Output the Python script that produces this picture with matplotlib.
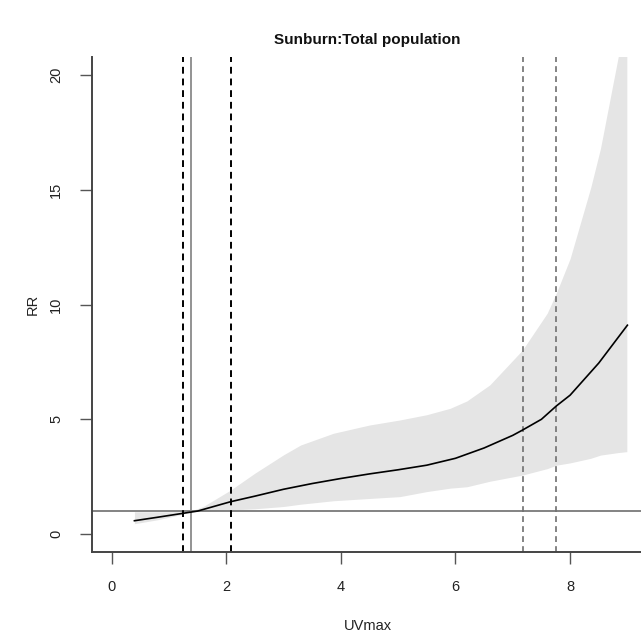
import numpy as np
import matplotlib
matplotlib.use("Agg")
import matplotlib.pyplot as plt

plt.rcParams['font.family'] = ['Liberation Sans', 'DejaVu Sans']

# exposure-response curve (UVmax vs RR)
uv = [0.4, 0.8, 1.24, 1.5, 2.08, 2.5, 3.0, 3.5, 4.0, 4.5, 5.0, 5.5, 6.0,
      6.5, 7.0, 7.17, 7.5, 7.76, 8.0, 8.5, 9.0]
rr = [0.58, 0.73, 0.90, 1.0, 1.41, 1.65, 1.95, 2.2, 2.42, 2.62, 2.80, 3.0,
      3.3, 3.75, 4.3, 4.53, 5.0, 5.58, 6.05, 7.45, 9.1]

# confidence band
band_x = [0.4, 0.8, 1.24, 1.38, 1.6, 2.08, 2.5, 3.0, 3.3, 3.87, 4.5, 5.03,
          5.5, 5.91, 6.2, 6.6, 7.17, 7.6, 7.76, 8.0, 8.36, 8.53, 8.84, 8.99]
band_high = [0.97, 0.97, 0.97, 1.0, 1.2, 1.92, 2.65, 3.45, 3.88, 4.39, 4.75,
             4.97, 5.2, 5.48, 5.8, 6.5, 8.02, 9.62, 10.5, 12.0, 15.1, 16.8,
             20.8, 22.5]
band_low = [0.45, 0.62, 0.86, 1.0, 1.0, 1.05, 1.1, 1.2, 1.3, 1.45, 1.55, 1.63,
            1.85, 2.0, 2.06, 2.3, 2.57, 2.85, 3.0, 3.1, 3.3, 3.44, 3.55, 3.59]

ref_line = 1.38          # solid vertical
dash_black = [1.243, 2.085]
dash_grey = [7.17, 7.76]

xticks = [0, 2, 4, 6, 8]
yticks = [0, 5, 10, 15, 20]

fig = plt.figure(figsize=(6.41, 6.37), dpi=100)
ax = fig.add_axes([0.1431, 0.1339, 0.8679, 0.7771])

ax.fill_between(band_x, band_low, band_high, color='#e5e5e5', lw=0, zorder=1)
ax.plot(uv, rr, color='black', lw=1.2, zorder=3)

ax.axhline(1, color='#6e6e6e', lw=1.2, zorder=2)
ax.axvline(ref_line, color='#8a8a8a', lw=1.3, zorder=2)
for v in dash_black:
    ax.axvline(v, color='black', lw=1.4, ls=(0, (3.5, 2.5)), zorder=2)
for v in dash_grey:
    ax.axvline(v, color='#707070', lw=1.2, ls=(0, (3.5, 2.5)), zorder=2)

ax.set_xlim(-0.345, 9.36)
ax.set_ylim(-0.77, 20.8)

ax.spines['top'].set_visible(False)
ax.spines['right'].set_visible(False)
for s in ['left', 'bottom']:
    ax.spines[s].set_color('#444444')
    ax.spines[s].set_linewidth(1.4)

ax.set_xticks(xticks)
ax.set_yticks(yticks)
ax.set_yticklabels([str(t) for t in yticks], rotation=90, va='center')
ax.tick_params(axis='both', length=8.5, width=1.0, color='#555555',
               labelsize=10.5, labelcolor='#222222')
ax.tick_params(axis='x', pad=12)
ax.tick_params(axis='y', pad=12)

fig.text(368 / 641, 1 - 626 / 637, 'UVmax', ha='center', va='center',
         fontsize=10.5, color='#222222')
fig.text(33 / 641, 1 - 304 / 637, 'RR', ha='center', va='center',
         rotation=90, fontsize=10.5, color='#222222')
fig.text(367 / 641, 1 - 40 / 637, 'Sunburn:Total population', ha='center',
         va='center', fontsize=11, fontweight='bold', color='#111111')

fig.savefig('out.png', dpi=100)
